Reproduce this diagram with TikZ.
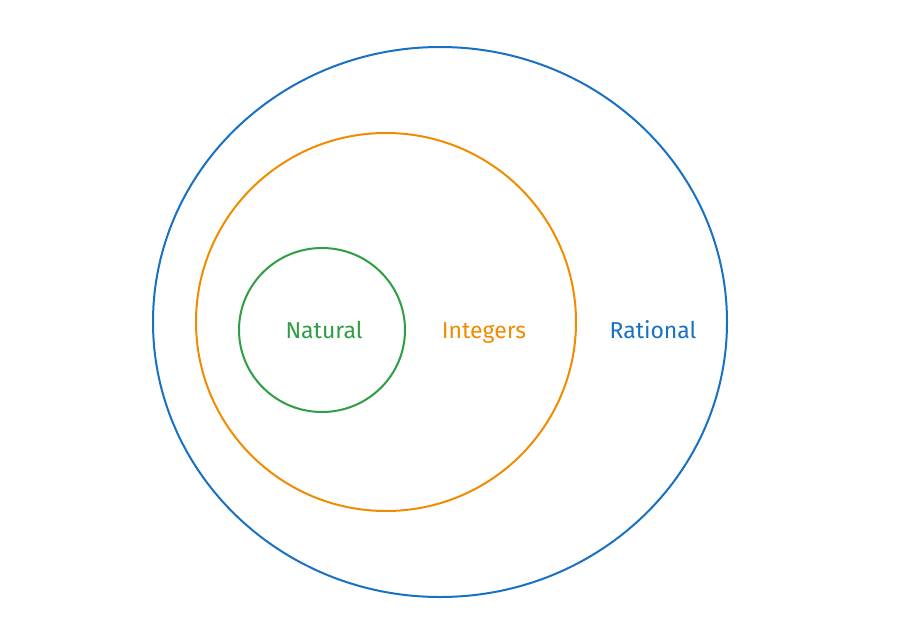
\documentclass[tikz,border=0pt]{standalone}
\usepackage{fontspec}
\setmainfont{Fira Sans}
\definecolor{exblue}{HTML}{1971C2}
\definecolor{exorange}{HTML}{F08C00}
\definecolor{exgreen}{HTML}{2F9E44}
\begin{document}
\begin{tikzpicture}[x=1pt,y=-1pt,
  setring/.style={line width=2pt},
  setlabel/.style={font=\fontsize{23}{26}\selectfont, inner sep=0pt, anchor=base}]
\useasboundingbox[fill=white] (0,0) rectangle (908,637);
\draw[setring, exblue] (440,322) ellipse [x radius=287, y radius=275];
\draw[setring, exorange] (386,322) ellipse [x radius=190, y radius=189];
\draw[setring, exgreen] (322,330) ellipse [x radius=83, y radius=82];
\node[setlabel, text=exgreen] (nat) at (324,338) {Natural};
\node[setlabel, text=exorange] (int) at (484,338) {Integers};
\node[setlabel, text=exblue] (rat) at (653,338) {Rational};
\end{tikzpicture}
\end{document}
